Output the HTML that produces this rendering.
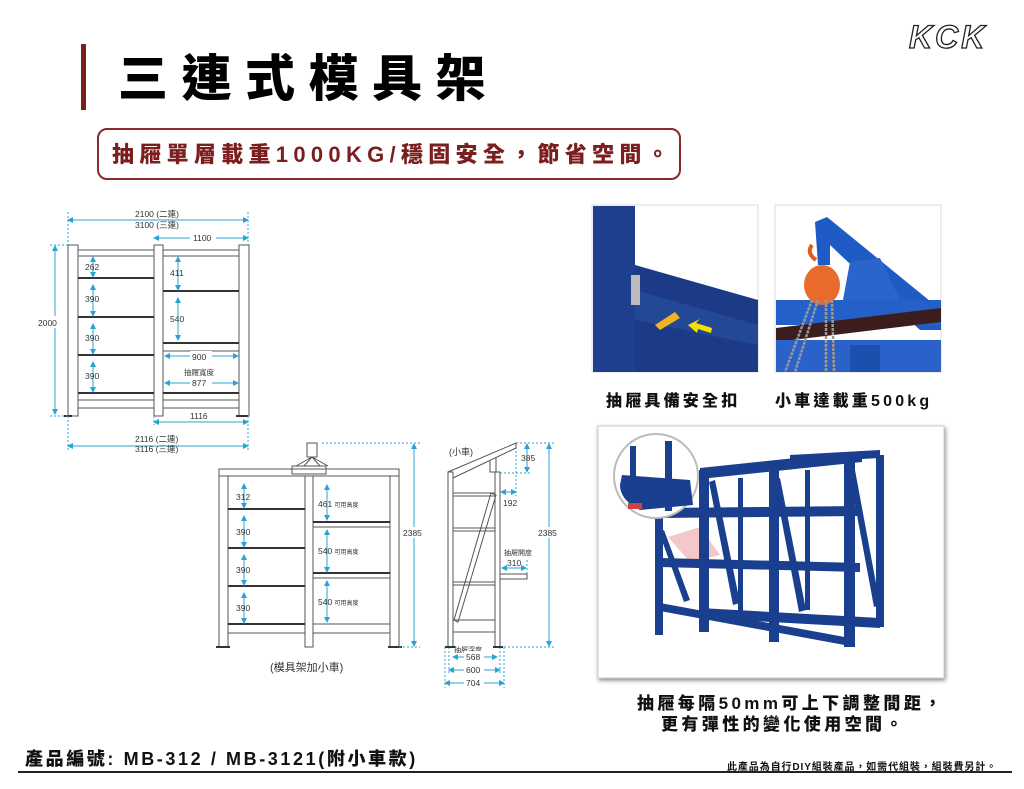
<!DOCTYPE html>
<html><head><meta charset="utf-8"><style>
*{margin:0;padding:0;box-sizing:border-box}
body{width:1024px;height:789px;background:#fff;position:relative;overflow:hidden;font-family:"Liberation Sans","Noto Sans CJK TC",sans-serif}
.a{position:absolute;white-space:nowrap}
</style></head><body>
<div class="a" style="left:81px;top:44px;width:5px;height:66px;background:#7a1e1e"></div>
<div class="a" style="left:118px;top:46px;font-size:50px;font-weight:900;letter-spacing:13.5px;line-height:66px;color:#000">三連式模具架</div>
<div class="a" style="left:97px;top:128px;width:584px;height:52px;border:2px solid #8a2a2a;border-radius:10px"></div>
<div class="a" style="left:112px;top:140px;font-size:22px;font-weight:900;letter-spacing:5.3px;color:#7a1e1e;line-height:30px">抽屜單層載重1000KG/穩固安全，節省空間。</div>
<div class="a" style="left:909px;top:19px;font-size:32px;font-style:italic;font-weight:900;color:#fff;-webkit-text-stroke:1.3px #222;letter-spacing:3px;line-height:36px">KCK</div>

<svg class="a" style="left:0;top:0" width="1024" height="789" viewBox="0 0 1024 789">
<defs><marker id="ar" markerWidth="6" markerHeight="6" refX="5" refY="3" orient="auto-start-reverse"><path d="M0,0L6,3L0,6z" fill="#29a3d6"/></marker>
<filter id="sh"><feDropShadow dx="1" dy="2" stdDeviation="2" flood-color="#888"/></filter></defs>
<g fill="none" stroke="#555" stroke-width="1">
<rect x="68" y="245" width="10" height="171"/><rect x="154" y="245" width="9" height="171"/><rect x="239" y="245" width="10" height="171"/>
<rect x="78" y="250" width="76" height="6"/><rect x="163" y="250" width="76" height="6"/>
<rect x="78" y="400" width="76" height="8"/><rect x="163" y="400" width="76" height="8"/>
<rect x="163" y="343" width="76" height="8"/>
</g>
<g stroke="#333" stroke-width="2">
<line x1="78" y1="278" x2="154" y2="278"/><line x1="78" y1="317" x2="154" y2="317"/><line x1="78" y1="355" x2="154" y2="355"/><line x1="78" y1="393" x2="154" y2="393"/>
<line x1="163" y1="291" x2="239" y2="291"/><line x1="163" y1="343" x2="239" y2="343"/><line x1="163" y1="393" x2="239" y2="393"/>
<line x1="64" y1="416" x2="72" y2="416"/><line x1="236" y1="416" x2="248" y2="416"/>
</g>
<g stroke="#29a3d6" stroke-width="1" fill="none">
<line x1="68" y1="220" x2="248" y2="220" marker-start="url(#ar)" marker-end="url(#ar)"/>
<line x1="154" y1="238" x2="248" y2="238" marker-start="url(#ar)" marker-end="url(#ar)"/>
<line x1="55" y1="246" x2="55" y2="414" marker-start="url(#ar)" marker-end="url(#ar)"/>
<line x1="154" y1="422" x2="248" y2="422" marker-start="url(#ar)" marker-end="url(#ar)"/>
<line x1="68" y1="446" x2="248" y2="446" marker-start="url(#ar)" marker-end="url(#ar)"/>
<line x1="93" y1="257" x2="93" y2="277" marker-start="url(#ar)" marker-end="url(#ar)"/>
<line x1="93" y1="285" x2="93" y2="316" marker-start="url(#ar)" marker-end="url(#ar)"/>
<line x1="93" y1="324" x2="93" y2="354" marker-start="url(#ar)" marker-end="url(#ar)"/>
<line x1="93" y1="362" x2="93" y2="392" marker-start="url(#ar)" marker-end="url(#ar)"/>
<line x1="178" y1="257" x2="178" y2="290" marker-start="url(#ar)" marker-end="url(#ar)"/>
<line x1="178" y1="298" x2="178" y2="340" marker-start="url(#ar)" marker-end="url(#ar)"/>
<line x1="165" y1="356" x2="238" y2="356" marker-start="url(#ar)" marker-end="url(#ar)"/>
<line x1="165" y1="383" x2="238" y2="383" marker-start="url(#ar)" marker-end="url(#ar)"/>
<g stroke-dasharray="2,2"><line x1="68" y1="212" x2="68" y2="245"/><line x1="248" y1="212" x2="248" y2="245"/><line x1="50" y1="245" x2="68" y2="245"/><line x1="50" y1="416" x2="68" y2="416"/><line x1="68" y1="416" x2="68" y2="452"/><line x1="248" y1="416" x2="248" y2="452"/><line x1="154" y1="416" x2="154" y2="425"/></g>
</g>
<g font-family="Liberation Sans,Noto Sans CJK TC,sans-serif" font-size="8.5" fill="#333">
<text x="135" y="217">2100 (二連)</text><text x="135" y="228">3100 (三連)</text>
<rect x="190" y="233" width="26" height="10" fill="#fff"/><text x="193" y="241">1100</text>
<rect x="36" y="316" width="30" height="12" fill="#fff"/><text x="38" y="326">2000</text>
<text x="85" y="270">262</text><text x="85" y="302">390</text><text x="85" y="341">390</text><text x="85" y="379">390</text>
<text x="170" y="276">411</text><text x="170" y="322">540</text>
<rect x="190" y="351" width="22" height="10" fill="#fff"/><text x="192" y="360">900</text>
<text x="184" y="375" font-size="7.5">抽屜寬度</text>
<rect x="190" y="378" width="22" height="10" fill="#fff"/><text x="192" y="386">877</text>
<text x="190" y="419">1116</text>
<text x="135" y="442">2116 (二連)</text><text x="135" y="452">3116 (三連)</text>
</g>

<g fill="none" stroke="#555" stroke-width="1">
<rect x="219" y="469" width="180" height="7"/>
<rect x="219" y="476" width="9" height="171"/><rect x="305" y="476" width="8" height="171"/><rect x="390" y="476" width="9" height="171"/>
<rect x="228" y="624" width="77" height="9"/><rect x="313" y="624" width="77" height="9"/>
<rect x="313" y="522" width="77" height="5"/><rect x="313" y="573" width="77" height="5"/>
<rect x="292" y="466" width="34" height="8"/>
<path d="M307,443h10v14h-10z M312,457 L296,466 M312,457 L328,466 M312,457 L304,466 M312,457 L320,466"/>
</g>
<g stroke="#333" stroke-width="2">
<line x1="228" y1="509" x2="305" y2="509"/><line x1="228" y1="548" x2="305" y2="548"/><line x1="228" y1="586" x2="305" y2="586"/><line x1="228" y1="624" x2="305" y2="624"/>
<line x1="313" y1="522" x2="390" y2="522"/><line x1="313" y1="573" x2="390" y2="573"/>
<line x1="216" y1="647" x2="230" y2="647"/><line x1="388" y1="647" x2="402" y2="647"/>
</g>
<g stroke="#29a3d6" stroke-width="1" fill="none">
<line x1="244" y1="484" x2="244" y2="508" marker-start="url(#ar)" marker-end="url(#ar)"/>
<line x1="244" y1="516" x2="244" y2="547" marker-start="url(#ar)" marker-end="url(#ar)"/>
<line x1="244" y1="555" x2="244" y2="585" marker-start="url(#ar)" marker-end="url(#ar)"/>
<line x1="244" y1="593" x2="244" y2="623" marker-start="url(#ar)" marker-end="url(#ar)"/>
<line x1="327" y1="485" x2="327" y2="520" marker-start="url(#ar)" marker-end="url(#ar)"/>
<line x1="327" y1="530" x2="327" y2="572" marker-start="url(#ar)" marker-end="url(#ar)"/>
<line x1="327" y1="581" x2="327" y2="622" marker-start="url(#ar)" marker-end="url(#ar)"/>
<line x1="414" y1="444" x2="414" y2="646" marker-start="url(#ar)" marker-end="url(#ar)"/>
<line x1="527" y1="444" x2="527" y2="472" marker-start="url(#ar)" marker-end="url(#ar)"/>
<line x1="501" y1="492" x2="516" y2="492" marker-start="url(#ar)" marker-end="url(#ar)"/>
<line x1="549" y1="444" x2="549" y2="646" marker-start="url(#ar)" marker-end="url(#ar)"/>
<line x1="502" y1="568" x2="526" y2="568" marker-start="url(#ar)" marker-end="url(#ar)"/>
<line x1="453" y1="657" x2="497" y2="657" marker-start="url(#ar)" marker-end="url(#ar)"/>
<line x1="449" y1="670" x2="500" y2="670" marker-start="url(#ar)" marker-end="url(#ar)"/>
<line x1="445" y1="683" x2="504" y2="683" marker-start="url(#ar)" marker-end="url(#ar)"/>
<g stroke-dasharray="2,2"><line x1="322" y1="443" x2="420" y2="443"/><line x1="399" y1="647" x2="420" y2="647"/>
<line x1="516" y1="443" x2="555" y2="443"/><line x1="500" y1="473" x2="530" y2="473"/><line x1="516" y1="443" x2="516" y2="496"/><line x1="500" y1="647" x2="555" y2="647"/><line x1="527" y1="560" x2="527" y2="575"/>
<line x1="445" y1="647" x2="445" y2="688"/><line x1="504" y1="647" x2="504" y2="688"/><line x1="449" y1="647" x2="449" y2="674"/><line x1="500" y1="647" x2="500" y2="674"/></g>
</g>
<g fill="none" stroke="#555" stroke-width="1">
<rect x="448" y="472" width="5" height="175"/><rect x="495" y="472" width="5" height="175"/>
<path d="M448,472 L516,443 L516,448 L453,478"/><path d="M496,458v14M490,461v11h6"/>
<rect x="453" y="493" width="42" height="3"/><rect x="453" y="528" width="42" height="3"/><rect x="453" y="582" width="42" height="3"/><rect x="453" y="620" width="42" height="12"/>
<rect x="500" y="574" width="27" height="5"/>
<path d="M491,493 L496,495 L458,622 L454,620z"/>
</g>
<g stroke="#333" stroke-width="2"><line x1="445" y1="647" x2="455" y2="647"/><line x1="493" y1="647" x2="503" y2="647"/></g>
<g font-family="Liberation Sans,Noto Sans CJK TC,sans-serif" font-size="8.5" fill="#333">
<text x="236" y="500">312</text><text x="236" y="535">390</text><text x="236" y="573">390</text><text x="236" y="611">390</text>
<text x="318" y="507">461 <tspan font-size="6">可用高度</tspan></text>
<text x="318" y="554">540 <tspan font-size="6">可用高度</tspan></text>
<text x="318" y="605">540 <tspan font-size="6">可用高度</tspan></text>
<rect x="402" y="527" width="26" height="11" fill="#fff"/><text x="403" y="536">2385</text>
<rect x="537" y="527" width="26" height="11" fill="#fff"/><text x="538" y="536">2385</text>
<text x="449" y="455" font-size="9">(小車)</text>
<text x="521" y="461">385</text><text x="503" y="506">192</text>
<text x="504" y="555" font-size="7">抽屜開度</text><text x="507" y="566">310</text>
<text x="454" y="652" font-size="7">抽屜深度</text>
<rect x="464" y="651" width="20" height="10" fill="#fff"/><text x="466" y="660">568</text>
<rect x="464" y="665" width="20" height="10" fill="#fff"/><text x="466" y="673">600</text>
<rect x="464" y="678" width="20" height="10" fill="#fff"/><text x="466" y="686">704</text>
<text x="270" y="671" font-size="11">(模具架加小車)</text>
</g>

<g>
<rect x="592" y="205" width="166" height="167" fill="#fff" stroke="#ddd"/>
<rect x="593" y="206" width="42" height="166" fill="#1e3f8e"/>
<path d="M635,265 L758,300 L758,372 L635,372z" fill="#1d3a86"/>
<path d="M635,290 L758,325 L758,345 L635,320z" fill="#234896"/>
<rect x="631" y="275" width="9" height="30" fill="#bbb"/>
<path d="M655,325 L675,312 L680,318 L660,330z" fill="#f2b322"/>
<path d="M712,328 L696,323 L700,319 L688,325 L697,333 L698,329 L711,333z" fill="#f5e000"/>
</g>
<g>
<rect x="775" y="205" width="166" height="167" fill="#fff" stroke="#ddd"/>
<path d="M815,222 L827,217 L941,310 L941,330 L920,330 L830,245 L830,265 L818,265z" fill="#1f5bc4"/>
<path d="M850,262 L880,258 L900,300 L842,305z" fill="#2a65cc"/>
<rect x="776" y="300" width="165" height="25" fill="#2460c8"/>
<path d="M776,328 L941,308 L941,322 L776,342z" fill="#3a1d1c"/>
<rect x="776" y="340" width="165" height="32" fill="#2a62c9"/>
<rect x="850" y="345" width="30" height="27" fill="#1d4fae"/>
<ellipse cx="822" cy="285" rx="18" ry="20" fill="#ea6a2c"/>
<path d="M812,245 q-6,8 4,15" stroke="#e25a20" stroke-width="4" fill="none"/>
<g stroke="#999" stroke-width="2.5" stroke-dasharray="3,1"><line x1="812" y1="300" x2="785" y2="372"/><line x1="818" y1="300" x2="795" y2="372"/><line x1="826" y1="300" x2="826" y2="372"/><line x1="832" y1="300" x2="834" y2="372"/></g>
</g>

<g>
<rect x="598" y="426" width="346" height="252" fill="#fff" filter="url(#sh)" stroke="#ccc"/>
<path d="M668,537 L700,527 L720,555 L690,562z" fill="#f4c7c9"/>
<g fill="#1a3f8e">
<path d="M700,468 L862,451 L862,462 L700,479z"/>
<path d="M790,455 L880,450 L880,458 L790,463z"/>
<rect x="655" y="515" width="8" height="120"/>
<rect x="699" y="470" width="10" height="162"/>
<rect x="769" y="462" width="10" height="180"/>
<rect x="844" y="455" width="11" height="192"/>
<rect x="876" y="455" width="8" height="172"/>
<rect x="738" y="478" width="5" height="135"/><rect x="805" y="470" width="5" height="140"/>
<path d="M656,508 L860,506 L860,516 L656,518z"/>
<path d="M660,558 L860,563 L860,572 L660,567z"/>
<path d="M660,603 L850,638 L850,646 L660,611z"/>
<path d="M700,608 L880,618 L880,628 L700,618z"/>
<path d="M715,480 L740,603 L733,605 L709,482z"/>
<path d="M780,478 L806,610 L799,612 L774,480z"/>
<path d="M855,470 L880,605 L874,607 L849,472z"/>
<path d="M664,530 L690,600 L684,602 L659,532z"/>
</g>
<circle cx="656" cy="476" r="42" fill="#fff" stroke="#bbb" stroke-width="2"/>
<path d="M622,475 L690,480 L693,505 L640,510 Q620,500 620,485z" fill="#1a3f8e"/>
<rect x="630" y="446" width="6" height="60" fill="#1a3f8e"/><rect x="665" y="441" width="7" height="70" fill="#1a3f8e"/>
<rect x="628" y="503" width="14" height="6" fill="#c44"/>
</g>
</svg>

<div class="a" style="left:606px;top:387px;font-size:16px;font-weight:900;letter-spacing:3.2px;color:#111">抽屜具備安全扣</div>
<div class="a" style="left:775px;top:387px;font-size:16px;font-weight:900;letter-spacing:3.2px;color:#111">小車達載重500kg</div>
<div class="a" style="left:637px;top:689px;font-size:17px;font-weight:900;letter-spacing:3.4px;color:#111">抽屜每隔50mm可上下調整間距，</div>
<div class="a" style="left:661px;top:710px;font-size:17px;font-weight:900;letter-spacing:3.4px;color:#111">更有彈性的變化使用空間。</div>
<div class="a" style="left:25px;top:745px;font-size:18px;font-weight:900;letter-spacing:2.6px;color:#111">產品編號: MB-312 / MB-3121(附小車款)</div>
<div class="a" style="left:727px;top:758px;font-size:10px;font-weight:700;letter-spacing:0.9px;color:#111">此產品為自行DIY組裝產品，如需代組裝，組裝費另計。</div>
<div class="a" style="left:18px;top:771px;width:994px;height:2px;background:#222"></div>
</body></html>
